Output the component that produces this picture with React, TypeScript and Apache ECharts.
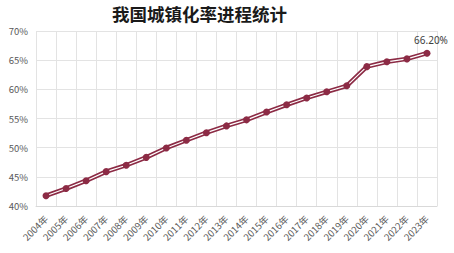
import React, { useEffect, useRef } from "react";
import * as echarts from "echarts";

const years = ["2004年","2005年","2006年","2007年","2008年","2009年","2010年","2011年","2012年","2013年","2014年","2015年","2016年","2017年","2018年","2019年","2020年","2021年","2022年","2023年"];
const rates = [41.76, 42.99, 44.34, 45.89, 46.99, 48.34, 49.95, 51.27, 52.57, 53.73, 54.77, 56.1, 57.35, 58.52, 59.58, 60.6, 63.89, 64.72, 65.22, 66.2];
const yTicks = { min: 40, max: 70, interval: 5 };
const titleText = "我国城镇化率进程统计";

export default function App() {
  const ref = useRef<HTMLDivElement>(null);
  useEffect(() => {
    if (!ref.current) return;
    const chart = echarts.init(ref.current, null, { renderer: "svg" });
    const lineColor = "#8c2b45";
    const last = rates.length - 1;
    chart.setOption({
      animation: false,
      title: {
        text: titleText,
        left: 107,
        top: 0,
        textStyle: { fontFamily: "Noto Sans CJK SC", fontWeight: "bold", fontSize: 17.5, color: "#1a1a1a" },
      },
      grid: { left: 36, right: 17, top: 31, bottom: 47 },
      xAxis: {
        type: "category",
        data: years,
        boundaryGap: true,
        axisLine: { show: true, lineStyle: { color: "#d9d9d9" } },
        axisTick: { show: false },
        splitLine: { show: true, interval: 0, lineStyle: { color: "#e3e3e3" } },
        axisLabel: {
          interval: 0,
          rotate: 45,
          fontSize: 9.5,
          color: "#595959",
          fontFamily: "Noto Sans CJK SC",
          margin: 11,
        },
      },
      yAxis: {
        type: "value",
        min: yTicks.min,
        max: yTicks.max,
        interval: yTicks.interval,
        axisLine: { show: false },
        axisTick: { show: false },
        splitLine: { lineStyle: { color: "#e3e3e3" } },
        axisLabel: {
          formatter: (v: number) => v + "%",
          fontSize: 9.5,
          color: "#595959",
          fontFamily: "Noto Sans CJK SC",
          margin: 8,
        },
      },
      series: [
        {
          type: "line",
          data: rates,
          symbol: "none",
          lineStyle: { color: lineColor, width: 4.5 },
          z: 2,
        },
        {
          type: "line",
          data: rates,
          symbol: "none",
          lineStyle: { color: "#ffffff", width: 1.2 },
          z: 3,
        },
        {
          type: "line",
          data: rates.map((v, i) => ({
            value: v,
            label: i === last ? { show: true, position: "top", offset: [4, 0], formatter: (p: any) => p.value.toFixed(2) + "%", fontSize: 10, color: "#404040", fontFamily: "Noto Sans" } : { show: false },
          })),
          symbol: "circle",
          symbolSize: 7,
          showAllSymbol: true,
          itemStyle: { color: lineColor },
          lineStyle: { opacity: 0, width: 0 },
          z: 4,
        },
      ],
    });
    return () => chart.dispose();
  }, []);
  return <div ref={ref} style={{ width: 454, height: 253, position: "absolute", left: 0, top: 0 }} />;
}
